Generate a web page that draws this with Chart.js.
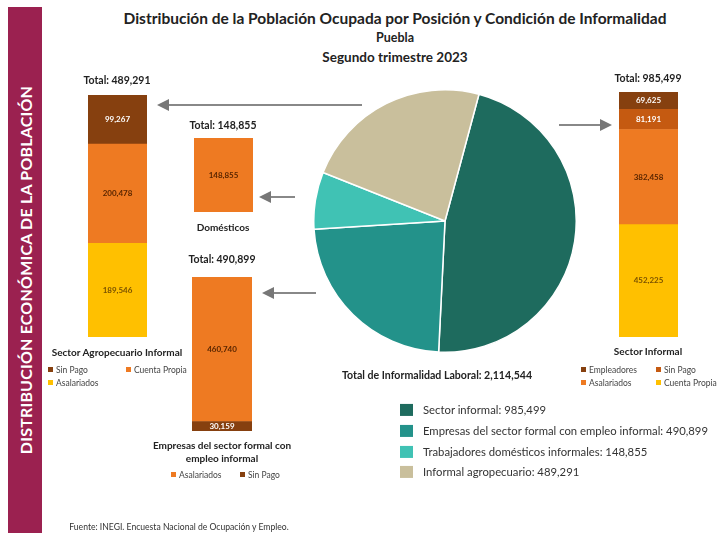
<!DOCTYPE html>
<html><head><meta charset="utf-8">
<script src="https://cdn.jsdelivr.net/npm/chart.js@4"></script>
<style>
html,body{margin:0;padding:0;background:#fff;}
body{width:719px;height:533px;position:relative;overflow:hidden;font-family:Lato,"Open Sans",sans-serif;color:#222;}
.t{position:absolute;white-space:nowrap;transform:translate(-50%,-50%);}
.b{font-weight:bold;}
.l{position:absolute;white-space:nowrap;transform:translateY(-50%);font-size:8.5px;color:#444;}
.m{display:inline-block;width:5px;height:5px;margin-right:3px;vertical-align:middle;position:relative;top:-1px;}
canvas{position:absolute;}
#side{position:absolute;left:8px;top:7px;width:34px;height:526px;background:#9b2150;}
#sideTxt{position:absolute;left:25px;top:270px;transform:translate(-50%,-50%) rotate(-90deg);color:#fff;font-weight:bold;font-size:16px;white-space:nowrap;letter-spacing:0.2px;}
.pl{position:absolute;left:400px;font-size:11.3px;color:#333;white-space:nowrap;transform:translateY(-50%);}
.pl span{display:inline-block;width:13px;height:12px;margin-right:10px;vertical-align:middle;position:relative;top:-1px;}
</style></head>
<body>
<div id="side"></div>
<div id="sideTxt">DISTRIBUCIÓN ECONÓMICA DE LA POBLACIÓN</div>

<div class="t b" style="left:395px;top:18px;font-size:15.5px;">Distribución de la Población Ocupada por Posición y Condición de Informalidad</div>
<div class="t b" style="left:395px;top:37px;font-size:12.5px;">Puebla</div>
<div class="t b" style="left:395px;top:57px;font-size:13.5px;">Segundo trimestre 2023</div>

<canvas id="cAgro" width="59" height="242" style="left:88px;top:95px;"></canvas>
<canvas id="cDom" width="59" height="74" style="left:194px;top:138px;"></canvas>
<canvas id="cForm" width="60" height="154" style="left:192px;top:277px;"></canvas>
<canvas id="cInf" width="59" height="245" style="left:619px;top:92px;"></canvas>
<canvas id="cPie" width="264" height="264" style="left:313px;top:89px;"></canvas>

<svg width="719" height="533" style="position:absolute;left:0;top:0;pointer-events:none;">
<defs><marker id="ah" markerWidth="6" markerHeight="6" refX="5" refY="3" orient="auto"><path d="M0,0 L6,3 L0,6 z" fill="#777"/></marker></defs>
<line x1="362" y1="105" x2="159" y2="105" stroke="#888" stroke-width="2" marker-end="url(#ah)"/>
<line x1="295" y1="197" x2="261" y2="197" stroke="#888" stroke-width="2" marker-end="url(#ah)"/>
<line x1="316" y1="293" x2="264" y2="293" stroke="#888" stroke-width="2" marker-end="url(#ah)"/>
<line x1="559" y1="125" x2="610" y2="125" stroke="#888" stroke-width="2" marker-end="url(#ah)"/>
</svg>

<div id="txt"></div>

<div class="t b" style="left:437px;top:375px;font-size:10.6px;">Total de Informalidad Laboral: 2,114,544</div>
<div id="pieLegend"></div>

<div class="t" style="left:179px;top:527px;font-size:8.6px;color:#333;">Fuente: INEGI. Encuesta Nacional de Ocupación y Empleo.</div>

<script>
// ---- data ----
const agroCats = ["Asalariados", "Cuenta Propia", "Sin Pago"];
const agroVals = [189546, 200478, 99267];
const domCats = ["Domésticos"];
const domVals = [148855];
const formCats = ["Sin Pago", "Asalariados"];
const formVals = [30159, 460740];
const infCats = ["Cuenta Propia", "Asalariados", "Sin Pago", "Empleadores"];
const infVals = [452225, 382458, 81191, 69625];
const pieCats = ["Sector informal", "Empresas del sector formal con empleo informal", "Trabajadores domésticos informales", "Informal agropecuario"];
const pieVals = [985499, 490899, 148855, 489291];

const C = {brown:"#86400f", sinpago:"#c55a11", orange:"#ee7a22", yellow:"#ffc000"};
const pieColors = ["#1e6b5e", "#23928a", "#40c2b4", "#c9bf9c"];

const fmt = v => v.toLocaleString("en-US");
const sum = a => a.reduce((s,v)=>s+v,0);

const labelPlugin = {
  id:"segLabels",
  afterDatasetsDraw(chart){
    const ctx = chart.ctx;
    chart.data.datasets.forEach((ds,i)=>{
      const el = chart.getDatasetMeta(i).data[0];
      if(!el) return;
      const y = (el.y + el.base)/2;
      ctx.save();
      ctx.font = "bold 8px Lato, sans-serif";
      ctx.fillStyle = ds.labelColor;
      ctx.textAlign = "center";
      ctx.textBaseline = "middle";
      ctx.fillText(fmt(ds.data[0]), el.x, y);
      ctx.restore();
    });
  }
};

function stackBar(id, cats, vals, colors, labelColors){
  new Chart(document.getElementById(id), {
    type:"bar",
    data:{labels:[""], datasets: cats.map((c,i)=>({label:c, data:[vals[i]], backgroundColor:colors[i], labelColor:labelColors[i], borderWidth:0, barPercentage:1, categoryPercentage:1}))},
    options:{responsive:false, animation:false, layout:{padding:0},
      plugins:{legend:{display:false}, tooltip:{enabled:false}},
      scales:{x:{display:false, stacked:true}, y:{display:false, stacked:true, min:0, max:sum(vals)}}},
    plugins:[labelPlugin]
  });
}

stackBar("cAgro", agroCats, agroVals, [C.yellow, C.orange, C.brown], ["#7a5200","#5a2600","#fff"]);
stackBar("cDom", domCats, domVals, [C.orange], ["#5a2600"]);
stackBar("cForm", formCats, formVals, [C.brown, C.orange], ["#fff","#5a2600"]);
stackBar("cInf", infCats, infVals, [C.yellow, C.orange, C.sinpago, C.brown], ["#7a5200","#5a2600","#fff","#fff"]);

new Chart(document.getElementById("cPie"), {
  type:"pie",
  data:{labels:pieCats, datasets:[{data:pieVals, backgroundColor:pieColors, borderColor:"#fff", borderWidth:1.5}]},
  options:{responsive:false, animation:false, rotation:15, layout:{padding:0},
    plugins:{legend:{display:false}, tooltip:{enabled:false}}}
});

// ---- texts ----
const txt = document.getElementById("txt");
function T(x,y,s,size,bold){const d=document.createElement("div");d.className="t"+(bold?" b":"");d.style.left=x+"px";d.style.top=y+"px";d.style.fontSize=size+"px";d.textContent=s;txt.appendChild(d);}
function L(x,y,s,color){const d=document.createElement("div");d.className="l";d.style.left=x+"px";d.style.top=y+"px";d.innerHTML='<span class="m" style="background:'+color+'"></span>';d.appendChild(document.createTextNode(s));txt.appendChild(d);}

T(117,80,"Total: "+fmt(sum(agroVals)),10.5,true);
T(117,352,"Sector Agropecuario Informal",10,true);
L(48,370,"Sin Pago",C.brown); L(126,370,"Cuenta Propia",C.orange); L(48,383,"Asalariados",C.yellow);

T(223,125,"Total: "+fmt(sum(domVals)),10.5,true);
T(223,227,"Domésticos",10,true);

T(222,259,"Total: "+fmt(sum(formVals)),10.5,true);
T(222,445,"Empresas del sector formal con",10,true);
T(222,458,"empleo informal",10,true);
L(171,475,"Asalariados",C.orange); L(240,475,"Sin Pago",C.brown);

T(648,78,"Total: "+fmt(sum(infVals)),10.5,true);
T(648,351,"Sector Informal",10,true);
L(581,370,"Empleadores",C.brown); L(656,370,"Sin Pago",C.sinpago);
L(581,383,"Asalariados",C.orange); L(656,383,"Cuenta Propia",C.yellow);

const pl = document.getElementById("pieLegend");
const rowsY = [410, 431, 452, 472];
pieCats.forEach((c,i)=>{const d=document.createElement("div");d.className="pl";d.style.top=rowsY[i]+"px";d.innerHTML='<span style="background:'+pieColors[i]+'"></span>';d.appendChild(document.createTextNode(c+": "+fmt(pieVals[i])));pl.appendChild(d);});
</script>
</body></html>
